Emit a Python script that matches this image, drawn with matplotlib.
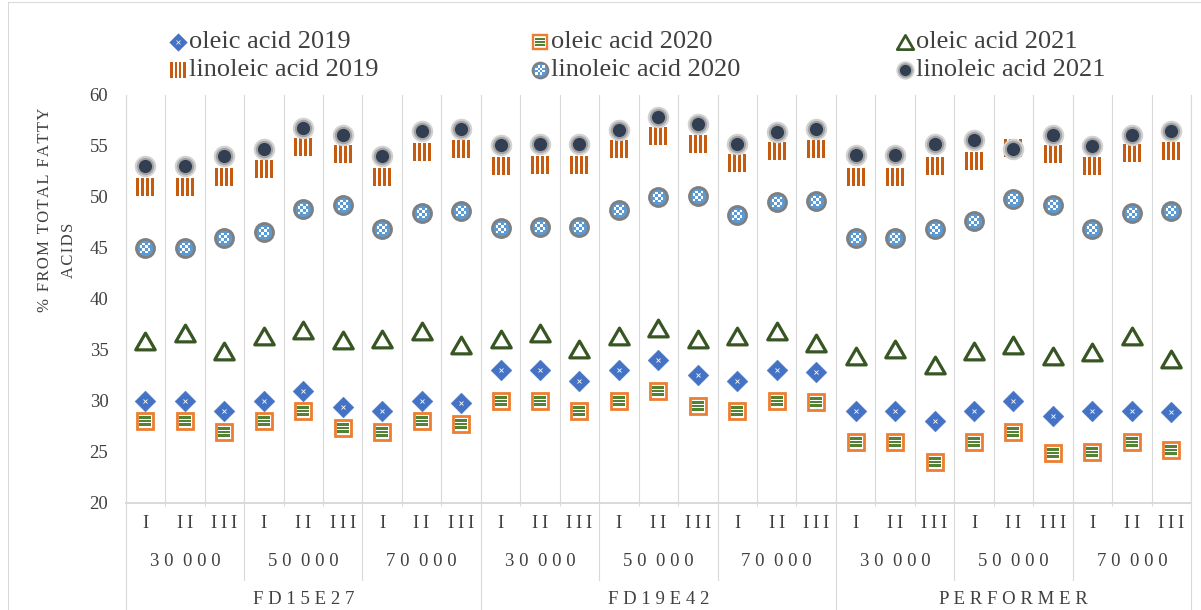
import numpy as np
import matplotlib
matplotlib.use("Agg")
import matplotlib.pyplot as plt
from matplotlib.path import Path
from matplotlib.lines import Line2D
import matplotlib.transforms as mtransforms

# ---------------- data ----------------
varieties = ["FD15E27", "FD19E42", "PERFORMER"]
densities = ["30 000", "50 000", "70 000"]
replicates = ["I", "II", "III"]

oleic_2019 = [30.0, 30.0, 29.0, 30.0, 31.0, 29.4, 29.0, 30.0, 29.8,
              33.0, 33.0, 32.0, 33.0, 34.0, 32.5, 32.0, 33.0, 32.8,
              29.0, 29.0, 28.0, 29.0, 30.0, 28.5, 29.0, 29.0, 28.9]
oleic_2020 = [28.0, 28.0, 27.0, 28.0, 29.0, 27.4, 27.0, 28.0, 27.7,
              30.0, 30.0, 29.0, 30.0, 31.0, 29.5, 29.0, 30.0, 29.9,
              26.0, 26.0, 24.0, 26.0, 27.0, 24.9, 25.0, 26.0, 25.2]
oleic_2021 = [35.9, 36.7, 34.9, 36.4, 37.0, 36.0, 36.1, 36.9, 35.5,
              36.1, 36.7, 35.1, 36.4, 37.2, 36.1, 36.4, 36.9, 35.7,
              34.4, 35.1, 33.5, 34.9, 35.5, 34.4, 34.8, 36.4, 34.1]
linoleic_2019 = [51.0, 51.0, 52.0, 52.7, 54.9, 54.2, 52.0, 54.4, 54.7,
                 53.0, 53.1, 53.1, 54.7, 56.0, 55.2, 53.3, 54.5, 54.7,
                 52.0, 52.0, 53.0, 53.5, 54.8, 54.2, 53.0, 54.3, 54.5]
linoleic_2020 = [45.0, 45.0, 46.0, 46.6, 48.8, 49.2, 46.9, 48.4, 48.6,
                 47.0, 47.1, 47.1, 48.7, 50.0, 50.1, 48.2, 49.5, 49.6,
                 46.0, 46.0, 46.9, 47.6, 49.8, 49.2, 46.9, 48.4, 48.6]
linoleic_2021 = [53.0, 53.0, 54.0, 54.7, 56.8, 56.1, 54.0, 56.5, 56.7,
                 55.1, 55.2, 55.2, 56.6, 57.8, 57.2, 55.2, 56.4, 56.7,
                 54.1, 54.1, 55.2, 55.6, 54.7, 56.1, 55.0, 56.1, 56.5]

series_names = ["oleic acid 2019", "oleic acid 2020", "oleic acid 2021",
                "linoleic acid 2019", "linoleic acid 2020", "linoleic acid 2021"]
series_values = [oleic_2019, oleic_2020, oleic_2021,
                 linoleic_2019, linoleic_2020, linoleic_2021]

# ---------------- marker shapes ----------------
def rect(x0, y0, x1, y1):
    return Path([(x0, y0), (x1, y0), (x1, y1), (x0, y1), (x0, y0)],
                [Path.MOVETO, Path.LINETO, Path.LINETO, Path.LINETO, Path.CLOSEPOLY])

vstripes = Path.make_compound_path(*[rect(c - 0.075, -0.5, c + 0.075, 0.5)
                                     for c in (-0.42, -0.14, 0.14, 0.42)])
hstripes = Path.make_compound_path(*[rect(-0.5, c - 0.1, 0.5, c + 0.1)
                                     for c in (-0.3, 0.0, 0.3)])
checker = Path.make_compound_path(*[rect(-0.5 + i * 0.25, -0.5 + j * 0.25,
                                         -0.25 + i * 0.25, -0.25 + j * 0.25)
                                    for i in range(4) for j in range(4) if (i + j) % 2 == 0])
diamond = Path([(0, 0.5), (0.5, 0), (0, -0.5), (-0.5, 0), (0, 0.5)],
               [Path.MOVETO, Path.LINETO, Path.LINETO, Path.LINETO, Path.CLOSEPOLY])
triangle = Path([(-0.5, -0.43), (0.5, -0.43), (0, 0.43), (-0.5, -0.43)],
                [Path.MOVETO, Path.LINETO, Path.LINETO, Path.CLOSEPOLY])

layers = [
    [dict(marker=diamond, ms=15, mfc="#4472C4", mec="#4472C4", mew=0.3),
     dict(marker="x", ms=3.5, mfc="none", mec="white", mew=0.6)],
    [dict(marker="s", ms=11.5, mfc="white", mec="#ED7D31", mew=2.0),
     dict(marker=hstripes, ms=8.6, mfc="#548235", mec="none", mew=0)],
    [dict(marker=triangle, ms=14, mfc="white", mec="#375623", mew=2.3)],
    [dict(marker=vstripes, ms=13, mfc="#C55A11", mec="none", mew=0)],
    [dict(marker="o", ms=13, mfc="#5B9BD5", mec="#7F7F7F", mew=2.0),
     dict(marker=checker, ms=7.8, mfc="white", mec="none", mew=0)],
    [dict(marker="o", ms=15.5, mfc="#D2D2D2", mec="none", mew=0),
     dict(marker="o", ms=12.5, mfc="#A3A3A3", mec="none", mew=0),
     dict(marker="o", ms=9.5, mfc="#323F52", mec="none", mew=0)],
]

SERIF = ["Liberation Serif", "DejaVu Serif"]
TXT = "#404040"

W, H = 1201, 610
fig = plt.figure(figsize=(W / 100, H / 100), dpi=100)
x0, x1, ytop, ybot = 125.7, 1191.0, 95.0, 503.0
ax = fig.add_axes([x0 / W, 1 - ybot / H, (x1 - x0) / W, (ybot - ytop) / H])

x = np.arange(len(oleic_2019))
for k, (vals, lay) in enumerate(zip(series_values, layers)):
    for li, d in enumerate(lay):
        ax.plot(x, vals, linestyle="none", zorder=3 + k + li * 0.1, clip_on=False, **d)

ax.set_xlim(-0.5, 26.5)
ax.set_ylim(20, 60)
ax.set_yticks(np.arange(20, 61, 5))
ax.set_yticklabels([str(v) for v in range(20, 61, 5)], family=SERIF, fontsize=13.5, color=TXT)
ax.tick_params(axis="y", length=0, pad=12.5)
ax.set_xticks(np.arange(-0.5, 27, 1))
ax.set_xticklabels([])
ax.tick_params(axis="x", length=2.5, color="#D9D9D9", width=0.75)
ax.grid(axis="x", color="#D9D9D9", lw=0.8, zorder=0)
ax.set_axisbelow(True)
for s in ("left", "right"):
    ax.spines[s].set_color("#D9D9D9")
    ax.spines[s].set_linewidth(0.8)
ax.spines["top"].set_visible(False)
ax.spines["bottom"].set_color("#D9D9D9")
ax.spines["bottom"].set_linewidth(1.4)

# ---------------- multi-level category axis ----------------
bt = mtransforms.blended_transform_factory(ax.transData, fig.transFigure)

def fy(py):
    return 1 - py / H

def spaced(s):
    return " ".join(s).replace("   ", "  ")

def hair(s):
    return "\u200a".join(s)

for i in range(27):
    ax.text(i, fy(523), "\u2009".join(replicates[i % 3]), transform=bt, ha="center", va="center",
            family=SERIF, fontsize=13.5, color=TXT)
for g in range(9):
    ax.text(g * 3 + 1, fy(562), spaced(densities[g % 3]), transform=bt, ha="center", va="center",
            family=SERIF, fontsize=13.5, color=TXT)
for v in range(3):
    ax.text(v * 9 + 4, fy(600), spaced(varieties[v]), transform=bt, ha="center", va="center",
            family=SERIF, fontsize=13.5, color=TXT)

for b in np.arange(-0.5, 27, 3):
    bottom = 0 if (b + 0.5) % 9 == 0 else fy(580)
    ax.add_line(Line2D([b, b], [fy(ybot), bottom], transform=bt, color="#D9D9D9",
                       lw=0.8, clip_on=False))

# ---------------- y-axis title ----------------
fig.text(45 / W, fy(210), hair("% FROM TOTAL FATTY"), rotation=90,
         ha="center", va="center", family=SERIF, fontsize=12, color=TXT)
fig.text(69 / W, fy(250), hair("ACIDS"), rotation=90,
         ha="center", va="center", family=SERIF, fontsize=12, color=TXT)

# ---------------- legend (drawn manually) ----------------
leg_cols = [178, 540, 905]
leg_rows = [42, 70]
for k, (name, lay) in enumerate(zip(series_names, layers)):
    col, row = k % 3, k // 3
    mx, my = leg_cols[col] / W, fy(leg_rows[row])
    for d in lay:
        dd = dict(d)
        dd["ms"] = d["ms"] * 0.85
        dd["mew"] = d["mew"] * 0.85
        fig.add_artist(Line2D([mx], [my], transform=fig.transFigure, linestyle="none", **dd))
    fig.text(mx + 11 / W, my, name, ha="left", va="center", family=SERIF,
             fontsize=19, color=TXT)

# chart-area border
fig.add_artist(Line2D([8 / W, 8 / W], [0, 1 - 2 / H], transform=fig.transFigure,
                      color="#D9D9D9", lw=0.75))
fig.add_artist(Line2D([8 / W, 1], [1 - 2 / H, 1 - 2 / H], transform=fig.transFigure,
                      color="#D9D9D9", lw=0.75))

fig.savefig("out.png", dpi=100)
